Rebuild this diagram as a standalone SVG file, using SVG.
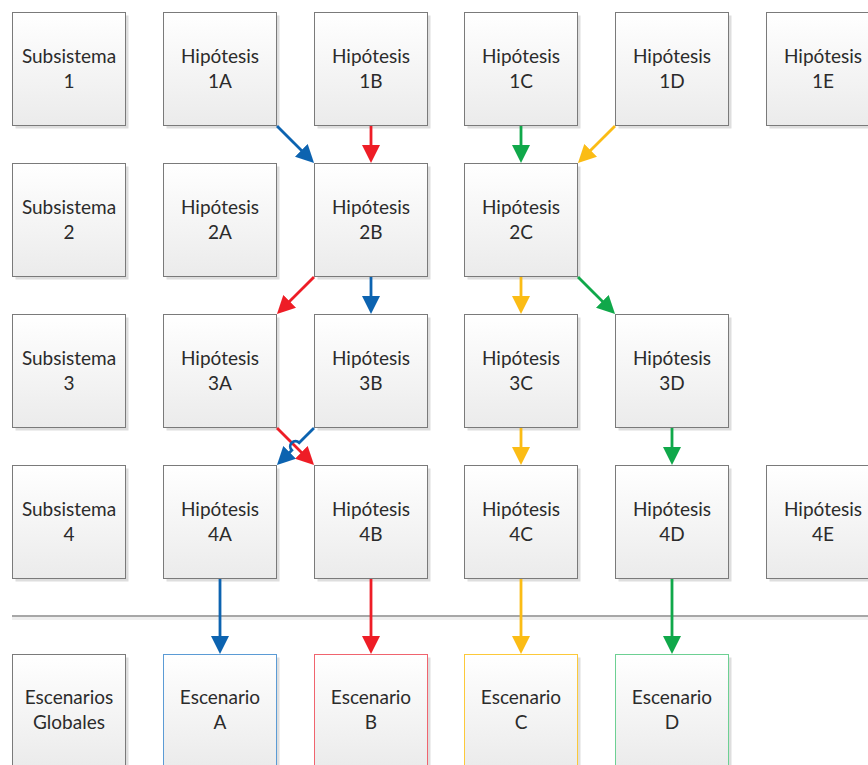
<svg xmlns="http://www.w3.org/2000/svg" width="868" height="765" viewBox="0 0 868 765">
  <style>
    .box { fill: url(#boxFill); stroke: #7a7a7a; stroke-width: 1; }
    .shadow { fill: #dedede; }
    .lbl { font-family: Lato, "Open Sans", "Liberation Sans", sans-serif; font-size: 19px; fill: #2b2b2b; text-anchor: middle; }
    .c { fill: none; stroke-width: 2.8; }
    .blue { stroke: #0c63b0; }
    .red { stroke: #ee1d26; }
    .green { stroke: #10a84a; }
    .yellow { stroke: #fbbc15; }
  </style>
  <defs>
    <linearGradient id="boxFill" x1="0" y1="0" x2="0" y2="1">
      <stop offset="0" stop-color="#ffffff"/>
      <stop offset="1" stop-color="#ebebeb"/>
    </linearGradient>
    <marker id="aBlue" markerUnits="userSpaceOnUse" viewBox="0 0 18 18" refX="12" refY="9" markerWidth="18" markerHeight="18" orient="auto">
      <path d="M0,0 L18,9 L0,18 Z" fill="#0c63b0"/>
    </marker>
    <marker id="aRed" markerUnits="userSpaceOnUse" viewBox="0 0 18 18" refX="12" refY="9" markerWidth="18" markerHeight="18" orient="auto">
      <path d="M0,0 L18,9 L0,18 Z" fill="#ee1d26"/>
    </marker>
    <marker id="aGreen" markerUnits="userSpaceOnUse" viewBox="0 0 18 18" refX="12" refY="9" markerWidth="18" markerHeight="18" orient="auto">
      <path d="M0,0 L18,9 L0,18 Z" fill="#10a84a"/>
    </marker>
    <marker id="aYellow" markerUnits="userSpaceOnUse" viewBox="0 0 18 18" refX="12" refY="9" markerWidth="18" markerHeight="18" orient="auto">
      <path d="M0,0 L18,9 L0,18 Z" fill="#fbbc15"/>
    </marker>
  </defs>

  <rect width="868" height="765" fill="#ffffff"/>

  <!-- row 1 -->
  <g id="sub1"><rect class="shadow" x="15.5" y="15.5" width="113" height="113"/><rect class="box" x="12.5" y="12.5" width="113" height="113"/><text class="lbl" x="69" y="63">Subsistema</text><text class="lbl" x="69" y="88">1</text></g>
  <g id="h1A"><rect class="shadow" x="166.5" y="15.5" width="113" height="113"/><rect class="box" x="163.5" y="12.5" width="113" height="113"/><text class="lbl" x="220" y="63">Hipótesis</text><text class="lbl" x="220" y="88">1A</text></g>
  <g id="h1B"><rect class="shadow" x="317.5" y="15.5" width="113" height="113"/><rect class="box" x="314.5" y="12.5" width="113" height="113"/><text class="lbl" x="371" y="63">Hipótesis</text><text class="lbl" x="371" y="88">1B</text></g>
  <g id="h1C"><rect class="shadow" x="467.5" y="15.5" width="113" height="113"/><rect class="box" x="464.5" y="12.5" width="113" height="113"/><text class="lbl" x="521" y="63">Hipótesis</text><text class="lbl" x="521" y="88">1C</text></g>
  <g id="h1D"><rect class="shadow" x="618.5" y="15.5" width="113" height="113"/><rect class="box" x="615.5" y="12.5" width="113" height="113"/><text class="lbl" x="672" y="63">Hipótesis</text><text class="lbl" x="672" y="88">1D</text></g>
  <g id="h1E"><rect class="shadow" x="769.5" y="15.5" width="113" height="113"/><rect class="box" x="766.5" y="12.5" width="113" height="113"/><text class="lbl" x="823" y="63">Hipótesis</text><text class="lbl" x="823" y="88">1E</text></g>

  <!-- row 2 -->
  <g id="sub2"><rect class="shadow" x="15.5" y="166.5" width="113" height="113"/><rect class="box" x="12.5" y="163.5" width="113" height="113"/><text class="lbl" x="69" y="214">Subsistema</text><text class="lbl" x="69" y="239">2</text></g>
  <g id="h2A"><rect class="shadow" x="166.5" y="166.5" width="113" height="113"/><rect class="box" x="163.5" y="163.5" width="113" height="113"/><text class="lbl" x="220" y="214">Hipótesis</text><text class="lbl" x="220" y="239">2A</text></g>
  <g id="h2B"><rect class="shadow" x="317.5" y="166.5" width="113" height="113"/><rect class="box" x="314.5" y="163.5" width="113" height="113"/><text class="lbl" x="371" y="214">Hipótesis</text><text class="lbl" x="371" y="239">2B</text></g>
  <g id="h2C"><rect class="shadow" x="467.5" y="166.5" width="113" height="113"/><rect class="box" x="464.5" y="163.5" width="113" height="113"/><text class="lbl" x="521" y="214">Hipótesis</text><text class="lbl" x="521" y="239">2C</text></g>

  <!-- row 3 -->
  <g id="sub3"><rect class="shadow" x="15.5" y="317.5" width="113" height="113"/><rect class="box" x="12.5" y="314.5" width="113" height="113"/><text class="lbl" x="69" y="365">Subsistema</text><text class="lbl" x="69" y="390">3</text></g>
  <g id="h3A"><rect class="shadow" x="166.5" y="317.5" width="113" height="113"/><rect class="box" x="163.5" y="314.5" width="113" height="113"/><text class="lbl" x="220" y="365">Hipótesis</text><text class="lbl" x="220" y="390">3A</text></g>
  <g id="h3B"><rect class="shadow" x="317.5" y="317.5" width="113" height="113"/><rect class="box" x="314.5" y="314.5" width="113" height="113"/><text class="lbl" x="371" y="365">Hipótesis</text><text class="lbl" x="371" y="390">3B</text></g>
  <g id="h3C"><rect class="shadow" x="467.5" y="317.5" width="113" height="113"/><rect class="box" x="464.5" y="314.5" width="113" height="113"/><text class="lbl" x="521" y="365">Hipótesis</text><text class="lbl" x="521" y="390">3C</text></g>
  <g id="h3D"><rect class="shadow" x="618.5" y="317.5" width="113" height="113"/><rect class="box" x="615.5" y="314.5" width="113" height="113"/><text class="lbl" x="672" y="365">Hipótesis</text><text class="lbl" x="672" y="390">3D</text></g>

  <!-- row 4 -->
  <g id="sub4"><rect class="shadow" x="15.5" y="468.5" width="113" height="113"/><rect class="box" x="12.5" y="465.5" width="113" height="113"/><text class="lbl" x="69" y="516">Subsistema</text><text class="lbl" x="69" y="541">4</text></g>
  <g id="h4A"><rect class="shadow" x="166.5" y="468.5" width="113" height="113"/><rect class="box" x="163.5" y="465.5" width="113" height="113"/><text class="lbl" x="220" y="516">Hipótesis</text><text class="lbl" x="220" y="541">4A</text></g>
  <g id="h4B"><rect class="shadow" x="317.5" y="468.5" width="113" height="113"/><rect class="box" x="314.5" y="465.5" width="113" height="113"/><text class="lbl" x="371" y="516">Hipótesis</text><text class="lbl" x="371" y="541">4B</text></g>
  <g id="h4C"><rect class="shadow" x="467.5" y="468.5" width="113" height="113"/><rect class="box" x="464.5" y="465.5" width="113" height="113"/><text class="lbl" x="521" y="516">Hipótesis</text><text class="lbl" x="521" y="541">4C</text></g>
  <g id="h4D"><rect class="shadow" x="618.5" y="468.5" width="113" height="113"/><rect class="box" x="615.5" y="465.5" width="113" height="113"/><text class="lbl" x="672" y="516">Hipótesis</text><text class="lbl" x="672" y="541">4D</text></g>
  <g id="h4E"><rect class="shadow" x="769.5" y="468.5" width="113" height="113"/><rect class="box" x="766.5" y="465.5" width="113" height="113"/><text class="lbl" x="823" y="516">Hipótesis</text><text class="lbl" x="823" y="541">4E</text></g>

  <!-- separator -->
  <g id="separator">
    <line x1="12" y1="618.5" x2="868" y2="618.5" stroke="#efefef" stroke-width="3"/>
    <line x1="12" y1="616" x2="868" y2="616" stroke="#8a8a8a" stroke-width="1.3"/>
  </g>

  <!-- scenarios -->
  <g id="globales"><rect class="shadow" x="15.5" y="657.5" width="113" height="113"/><rect class="box" x="12.5" y="654.5" width="113" height="113"/><text class="lbl" x="69" y="704">Escenarios</text><text class="lbl" x="69" y="729">Globales</text></g>
  <g id="escA"><rect class="shadow" x="166.5" y="657.5" width="113" height="113"/><rect class="box" x="163.5" y="654.5" width="113" height="113" style="stroke:#5b9bd5"/><text class="lbl" x="220" y="704">Escenario</text><text class="lbl" x="220" y="729">A</text></g>
  <g id="escB"><rect class="shadow" x="317.5" y="657.5" width="113" height="113"/><rect class="box" x="314.5" y="654.5" width="113" height="113" style="stroke:#f0646e"/><text class="lbl" x="371" y="704">Escenario</text><text class="lbl" x="371" y="729">B</text></g>
  <g id="escC"><rect class="shadow" x="467.5" y="657.5" width="113" height="113"/><rect class="box" x="464.5" y="654.5" width="113" height="113" style="stroke:#fcc93a"/><text class="lbl" x="521" y="704">Escenario</text><text class="lbl" x="521" y="729">C</text></g>
  <g id="escD"><rect class="shadow" x="618.5" y="657.5" width="113" height="113"/><rect class="box" x="615.5" y="654.5" width="113" height="113" style="stroke:#6dd093"/><text class="lbl" x="672" y="704">Escenario</text><text class="lbl" x="672" y="729">D</text></g>

  <!-- connectors: each ends 6px short of the box edge, the marker tip reaches it -->
  <g id="connectors">
    <path class="c blue" d="M277,126 L309.8,158.8" marker-end="url(#aBlue)"/>
    <path class="c red" d="M371,126 L371,157" marker-end="url(#aRed)"/>
    <path class="c green" d="M521,126 L521,157" marker-end="url(#aGreen)"/>
    <path class="c yellow" d="M615,126 L582.2,158.8" marker-end="url(#aYellow)"/>

    <path class="c red" d="M314,277 L281.2,309.8" marker-end="url(#aRed)"/>
    <path class="c blue" d="M371,277 L371,308" marker-end="url(#aBlue)"/>
    <path class="c yellow" d="M521,277 L521,308" marker-end="url(#aYellow)"/>
    <path class="c green" d="M578,277 L610.8,309.8" marker-end="url(#aGreen)"/>

    <path class="c red" d="M277,428 L309.8,460.8" marker-end="url(#aRed)"/>
    <path class="c blue" d="M314,428 L299.2,442.8 A5,5 0 0 0 291.8,450.2 L281.2,460.8" marker-end="url(#aBlue)"/>
    <path class="c yellow" d="M521,428 L521,459" marker-end="url(#aYellow)"/>
    <path class="c green" d="M672,428 L672,459" marker-end="url(#aGreen)"/>

    <path class="c blue" d="M220,579 L220,648" marker-end="url(#aBlue)"/>
    <path class="c red" d="M371,579 L371,648" marker-end="url(#aRed)"/>
    <path class="c yellow" d="M521,579 L521,648" marker-end="url(#aYellow)"/>
    <path class="c green" d="M672,579 L672,648" marker-end="url(#aGreen)"/>
  </g>
</svg>
